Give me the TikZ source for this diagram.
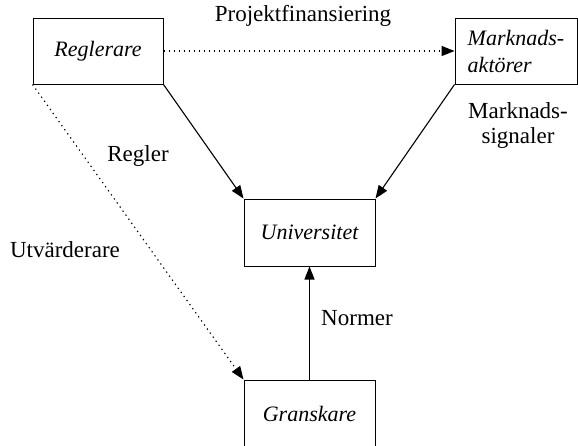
\documentclass[tikz,border=0pt]{standalone}
\usepackage{fontspec}
\setmainfont{Liberation Serif}
\usetikzlibrary{arrows.meta}
\begin{document}
\begin{tikzpicture}[x=1pt,y=-1pt,
  box/.style={draw, line width=1pt, inner sep=0pt, font=\fontsize{22}{27}\selectfont\itshape},
  lbl/.style={font=\fontsize{23}{25}\selectfont, anchor=base, inner sep=0pt},
  conn/.style={line width=1.1pt, -{Triangle[length=13pt,width=10pt]}},
  dots/.style={conn, dash pattern=on 1.3pt off 3.7pt}]
\useasboundingbox (0,0) rectangle (578,445);
\node[box, minimum width=130pt, minimum height=66pt] (reg) at (98,51) {Reglerare};
\node[box, minimum width=122pt, minimum height=66pt, align=left] (mark) at (516,51) {Marknads-\\aktörer};
\node[box, minimum width=131pt, minimum height=67pt] (uni) at (309.5,232.5) {Universitet};
\node[box, minimum width=131pt, minimum height=67pt] (gran) at (309.5,413.5) {Granskare};
\draw[dots] (reg.east) -- (mark.west);
\draw[dots] (reg.south west) -- (gran.north west);
\draw[conn] (reg.south east) -- (uni.north west);
\draw[conn] (mark.south west) -- (uni.north east);
\draw[conn] (gran.north) -- (uni.south);
\node[lbl] (lp) at (303,21) {Projektfinansiering};
\node[lbl] (lr) at (138,161) {Regler};
\node[lbl] (lu) at (65,257) {Utvärderare};
\node[lbl] (ln) at (357,325) {Normer};
\node[lbl, align=center] (lm) at (518,143) {Marknads-\\signaler};
\end{tikzpicture}
\end{document}
